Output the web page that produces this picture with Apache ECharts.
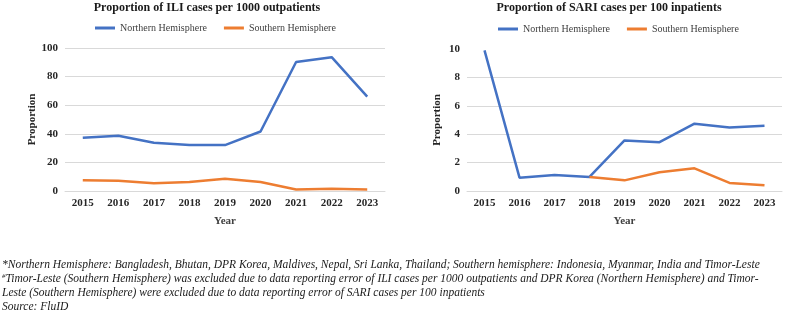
<!DOCTYPE html>
<html>
<head>
<meta charset="utf-8">
<script src="https://cdn.jsdelivr.net/npm/echarts@6/dist/echarts.min.js"></script>
<style>
  html, body { margin: 0; padding: 0; background: #fff; }
  #main { width: 785px; height: 314px; }
</style>
</head>
<body>
<div id="main"></div>
<script>
var years = ["2015", "2016", "2017", "2018", "2019", "2020", "2021", "2022", "2023"];
// ILI cases per 1000 outpatients
var iliNorth = [37.2, 38.6, 33.7, 32.1, 32.1, 41.6, 90.2, 93.6, 66];
var iliSouth = [7.6, 7.2, 5.5, 6.3, 8.6, 6.3, 1.1, 1.5, 1.1];
// SARI cases per 100 inpatients
var sariNorth = [9.9, 0.94, 1.12, 0.99, 3.56, 3.44, 4.74, 4.48, 4.6];
var sariSouth = [null, null, null, 0.99, 0.75, 1.32, 1.6, 0.57, 0.4];

var blue = "#4472c4";
var orange = "#ed7d31";
var serif = "Liberation Serif";

var chart = echarts.init(document.getElementById("main"));

function xAx(idx) {
  return {
    type: "category",
    gridIndex: idx,
    data: years,
    name: "Year",
    nameLocation: "middle",
    nameGap: 25,
    nameTextStyle: { fontFamily: serif, fontWeight: "bold", fontSize: 11, color: "#404040" },
    axisLine: { lineStyle: { color: "#d9d9d9" } },
    axisTick: { show: false },
    axisLabel: { fontFamily: serif, fontWeight: "bold", fontSize: 11, color: "#262626", margin: 7 }
  };
}

function yAx(idx, max, step, gap, gridCols) {
  return {
    type: "value",
    gridIndex: idx,
    min: 0,
    max: max,
    interval: step,
    name: "Proportion",
    nameLocation: "middle",
    nameRotate: 90,
    nameGap: gap,
    nameTextStyle: { fontFamily: serif, fontWeight: "bold", fontSize: 11, color: "#262626" },
    axisLine: { show: false },
    axisTick: { show: false },
    axisLabel: { fontFamily: serif, fontWeight: "bold", fontSize: 11, color: "#262626", margin: 7 },
    splitLine: { lineStyle: { color: gridCols, width: 1 } }
  };
}

function line(name, data, xi, color) {
  return {
    name: name,
    type: "line",
    xAxisIndex: xi,
    yAxisIndex: xi,
    data: data,
    symbol: "none",
    connectNulls: false,
    lineStyle: { color: color, width: 2.5 },
    itemStyle: { color: color }
  };
}

var legendText = { fontFamily: serif, fontSize: 10, color: "#404040" };
var titleText = { fontFamily: serif, fontWeight: "bold", fontSize: 12, color: "#1a1a1a" };

var option = {
  animation: false,
  backgroundColor: "#fff",
  title: [
    {
      text: "Proportion of ILI cases per 1000 outpatients",
      left: 207, top: 2, padding: 0, textAlign: "center",
      textStyle: titleText
    },
    {
      text: "Proportion of SARI cases per 100 inpatients",
      left: 609, top: 2, padding: 0, textAlign: "center",
      textStyle: titleText
    }
  ],
  legend: [
    {
      left: 95, top: 23, padding: 0, icon: "rect", itemWidth: 20, itemHeight: 3, itemGap: 17,
      textStyle: legendText,
      data: ["Northern Hemisphere", "Southern Hemisphere"]
    },
    {
      left: 498, top: 24, padding: 0, icon: "rect", itemWidth: 20, itemHeight: 3, itemGap: 17,
      textStyle: legendText,
      data: ["Northern Hemisphere", "Southern Hemisphere"]
    }
  ],
  grid: [
    { left: 65, right: 400, top: 48, bottom: 123 },
    { left: 467, right: 3, top: 49, bottom: 123 }
  ],
  xAxis: [xAx(0), xAx(1)],
  yAxis: [
    yAx(0, 100, 20, 27, ["#d9d9d9"]),
    yAx(1, 10, 2, 24, ["#d9d9d9", "#d9d9d9", "#d9d9d9", "#d9d9d9", "#d9d9d9", "rgba(0,0,0,0)"])
  ],
  series: [
    line("Northern Hemisphere", iliNorth, 0, blue),
    line("Southern Hemisphere", iliSouth, 0, orange),
    line("Northern Hemisphere", sariNorth, 1, blue),
    line("Southern Hemisphere", sariSouth, 1, orange)
  ],
  graphic: [
    {
      type: "text", left: 2, top: 259,
      style: {
        text: "*Northern Hemisphere: Bangladesh, Bhutan, DPR Korea, Maldives, Nepal, Sri Lanka, Thailand; Southern hemisphere: Indonesia, Myanmar, India and Timor-Leste",
        font: "italic 11.5px 'Liberation Serif'", fill: "#1a1a1a"
      }
    },
    {
      type: "text", left: 2, top: 273,
      style: {
        text: "{s|#}Timor-Leste (Southern Hemisphere) was excluded due to data reporting error of ILI cases per 1000 outpatients and DPR Korea (Northern Hemisphere) and Timor-",
        font: "italic 11.5px 'Liberation Serif'", fill: "#1a1a1a",
        rich: { s: { fontSize: 7, fontStyle: "italic", fontFamily: serif, verticalAlign: "top", padding: [0, 0, 5, 0] } }
      }
    },
    {
      type: "text", left: 2, top: 287,
      style: {
        text: "Leste (Southern Hemisphere) were excluded due to data reporting error of SARI cases per 100 inpatients",
        font: "italic 11.5px 'Liberation Serif'", fill: "#1a1a1a"
      }
    },
    {
      type: "text", left: 2, top: 301,
      style: {
        text: "Source: FluID",
        font: "italic 11.5px 'Liberation Serif'", fill: "#1a1a1a"
      }
    }
  ]
};

chart.setOption(option);
</script>
</body>
</html>
